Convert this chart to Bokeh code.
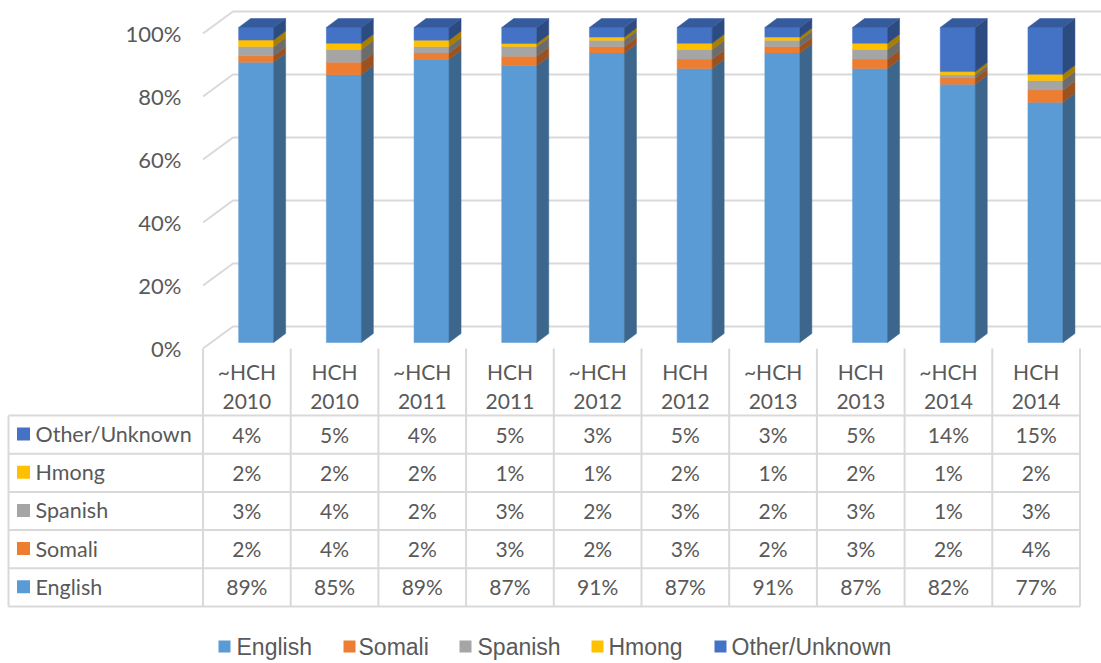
from bokeh.plotting import figure
from bokeh.models import Range1d
from bokeh.core.properties import value
from bokeh.embed import file_html
from bokeh.resources import INLINE

# ---------------- data ----------------
categories = ["~HCH 2010", "HCH 2010", "~HCH 2011", "HCH 2011", "~HCH 2012",
              "HCH 2012", "~HCH 2013", "HCH 2013", "~HCH 2014", "HCH 2014"]
english = [89, 85, 89, 87, 91, 87, 91, 87, 82, 77]
somali = [2, 4, 2, 3, 2, 3, 2, 3, 2, 4]
spanish = [3, 4, 2, 3, 2, 3, 2, 3, 1, 3]
hmong = [2, 2, 2, 1, 1, 2, 1, 2, 1, 2]
other = [4, 5, 4, 5, 3, 5, 3, 5, 14, 15]
series_names = ["English", "Somali", "Spanish", "Hmong", "Other/Unknown"]
series_values = [english, somali, spanish, hmong, other]
y_ticks = [0, 20, 40, 60, 80, 100]

colors = ["#5B9BD5", "#ED7D31", "#A5A5A5", "#FFC000", "#4472C4"]

# ---------------- geometry (pixels on the page) ----------------
W, H = 1101, 663
OFF = 0
COL_W = 87.7
COL0 = 202.5
Y0 = 348.0
PPP = 3.15  # pixels per percent


def X(px):
    return (px - COL0) / COL_W - 0.5


def Y(py):
    return (Y0 - py) / PPP


def DX(px):
    return px / COL_W


def DY(px):
    return px / PPP


def shade(hexc, f):
    r, g, b = int(hexc[1:3], 16), int(hexc[3:5], 16), int(hexc[5:7], 16)
    return "#%02x%02x%02x" % (int(r * f), int(g * f), int(b * f))


p = figure(width=W, height=H, x_range=Range1d(X(OFF), X(OFF + W)),
           y_range=Range1d(Y(OFF + H), Y(OFF)), output_backend="svg",
           toolbar_location=None, min_border=0)
p.axis.visible = False
p.grid.visible = False
p.outline_line_color = None
p.background_fill_color = "white"
p.border_fill_color = "white"

GRID = "#D9D9D9"
TXT = "#595959"
FONT = value("Lato")

# 3D gridlines / floor
wall_dx, wall_dy = DX(30), DY(22)
xl = X(COL0)
xr = X(OFF + W + 40)
p.multi_line(xs=[[xl, xl + wall_dx, xr] for t in y_ticks],
             ys=[[t, t + wall_dy, t + wall_dy] for t in y_ticks],
             line_color=GRID, line_width=2)

# y tick labels
p.text(x=[X(181)] * len(y_ticks), y=y_ticks, text=["%d%%" % t for t in y_ticks],
       text_font=FONT, text_font_size="22px", text_color=TXT,
       text_align="right", text_baseline="middle")

# 3D stacked bars (100% stacked)
bar_half = DX(17.5)
shift_x, shift_y = DX(9.3), DY(6)
depth_x, depth_y = DX(12), DY(9)
for i in range(len(categories)):
    total = sum(s[i] for s in series_values)
    base = 0.0
    l = i - bar_half + shift_x
    r = i + bar_half + shift_x
    for k, s in enumerate(series_values):
        h = s[i] / total * 100.0
        b = base + shift_y
        t = base + h + shift_y
        c = colors[k]
        p.quad(left=l, right=r, bottom=b, top=t, fill_color=c, line_color=c, line_width=0.5)
        sc = shade(c, 0.66)
        p.patch(x=[r, r + depth_x, r + depth_x, r], y=[b, b + depth_y, t + depth_y, t],
                fill_color=sc, line_color=sc, line_width=0.5)
        if k == len(series_values) - 1:
            tc = shade(c, 0.8)
            p.patch(x=[l, r, r + depth_x, l + depth_x], y=[t, t, t + depth_y, t + depth_y],
                    fill_color=tc, line_color=tc, line_width=0.5)
        base += h

# ---------------- data table ----------------
row_tops = [415 + 38.2 * k for k in range(6)]
# horizontal lines
p.multi_line(xs=[[X(8), X(COL0 + COL_W * 10)] for _ in row_tops],
             ys=[[Y(py), Y(py)] for py in row_tops], line_color=GRID, line_width=2)
# vertical lines
vx = [X(COL0 + COL_W * j) for j in range(11)]
p.multi_line(xs=[[x, x] for x in vx] + [[X(8), X(8)]],
             ys=[[Y(348), Y(row_tops[-1])] for _ in vx] + [[Y(row_tops[0]), Y(row_tops[-1])]],
             line_color=GRID, line_width=2)

# header labels
first = [c.split(" ")[0] for c in categories]
second = [c.split(" ")[1] for c in categories]
idx = list(range(len(categories)))
p.text(x=idx, y=[Y(370.5)] * len(idx), text=first, text_font=FONT, text_font_size="21px",
       text_color=TXT, text_align="center", text_baseline="middle")
p.text(x=idx, y=[Y(400.5)] * len(idx), text=second, text_font=FONT, text_font_size="21px",
       text_color=TXT, text_align="center", text_baseline="middle")

# table rows: top to bottom Other, Hmong, Spanish, Somali, English
order = [4, 3, 2, 1, 0]
for row, k in enumerate(order):
    yc = Y(row_tops[row] + 18.5)
    p.scatter(x=[X(23)], y=[yc], marker="square", size=13, fill_color=colors[k], line_color=None)
    p.text(x=[X(35)], y=[yc], text=[series_names[k]], text_font=FONT, text_font_size="21.5px",
           text_color=TXT, text_align="left", text_baseline="middle")
    p.text(x=idx, y=[yc] * len(idx), text=["%d%%" % v for v in series_values[k]],
           text_font=FONT, text_font_size="21px", text_color=TXT,
           text_align="center", text_baseline="middle")

# ---------------- bottom legend ----------------
leg_sq = [224, 349, 465, 597, 720]
leg_tx = [236, 358, 477, 608, 731]
ly = Y(646)
for k in range(5):
    p.scatter(x=[X(leg_sq[k])], y=[ly], marker="square", size=12, fill_color=colors[k], line_color=None)
    p.text(x=[X(leg_tx[k])], y=[ly], text=[series_names[k]], text_font=value("Liberation Sans"),
           text_font_size="23px", text_color=TXT, text_align="left", text_baseline="middle")

open("out.html", "w").write(file_html(p, INLINE))
